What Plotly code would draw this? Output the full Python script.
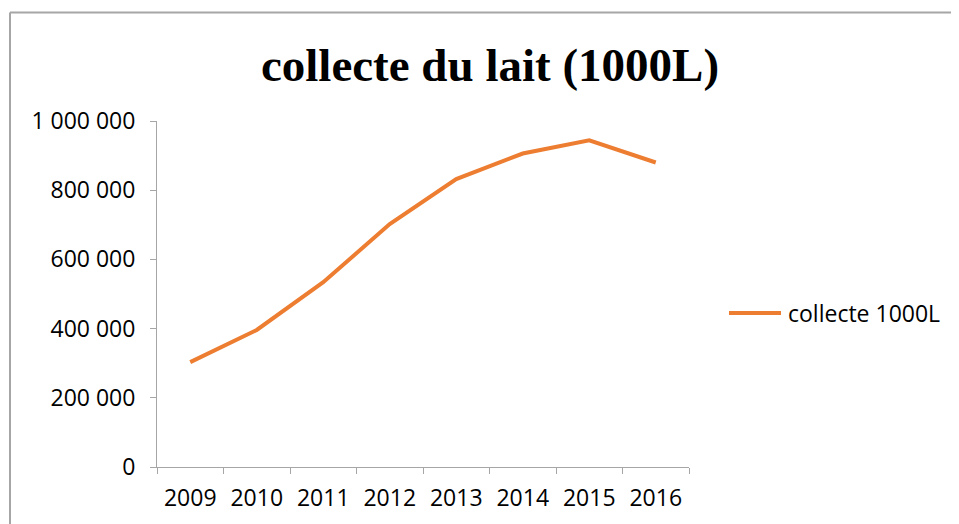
import plotly.graph_objects as go

# Data
years = ["2009", "2010", "2011", "2012", "2013", "2014", "2015", "2016"]
collecte = [303000, 396000, 534000, 702000, 832000, 906000, 944000, 880000]
y_ticks = [0, 200000, 400000, 600000, 800000, 1000000]

series_name = "collecte 1000L"
title_text = "collecte du lait (1000L)"

ORANGE = "#ED7D31"
AXIS_GREY = "#A6A6A6"
LABEL_FONT = "Open Sans, Liberation Sans, Arial, sans-serif"

# the page body adds an 8px margin, so work in shifted pixel coordinates
OFF = 8
W, H = 959 - OFF, 524 - OFF
PL, PR, PT, PB = 157 - OFF, 689 - OFF, 121 - OFF, 467 - OFF
pw, ph = PR - PL, PB - PT


def px_x(x):
    return (x - OFF - PL) / pw


def px_y(y):
    return (PB - (y - OFF)) / ph


fig = go.Figure()

fig.add_trace(
    go.Scatter(
        x=years,
        y=collecte,
        mode="lines",
        name=series_name,
        line=dict(color=ORANGE, width=4),
        showlegend=False,
    )
)

fig.update_layout(
    width=W,
    height=H,
    paper_bgcolor="#ffffff",
    plot_bgcolor="#ffffff",
    margin=dict(l=PL, r=W - PR, t=PT, b=H - PB),
    separators=". ",
    font=dict(family=LABEL_FONT, color="#000000", size=23),
    title=dict(
        text="<b>" + title_text + "</b>",
        x=(490 - OFF) / W,
        xanchor="center",
        y=1 - (65 - OFF) / H,
        yanchor="middle",
        yref="container",
        font=dict(family="Liberation Serif, Times New Roman, serif", size=47, color="#000000"),
    ),
    xaxis=dict(
        type="category",
        range=[-0.5, 7.5],
        tickson="boundaries",
        ticks="outside",
        ticklen=6,
        tickcolor=AXIS_GREY,
        ticklabelstandoff=10,
        showline=True,
        linecolor=AXIS_GREY,
        linewidth=1,
        showgrid=False,
        tickfont=dict(size=23),
        fixedrange=True,
    ),
    yaxis=dict(
        range=[0, 1000000],
        tickvals=y_ticks,
        tickformat=",d",
        ticks="outside",
        ticklen=6,
        tickcolor=AXIS_GREY,
        ticklabelstandoff=10,
        showline=True,
        linecolor=AXIS_GREY,
        linewidth=1,
        showgrid=False,
        zeroline=False,
        tickfont=dict(size=23),
        fixedrange=True,
    ),
    showlegend=False,
)

# Chart-area border (top and left edges visible in the reference)
border = dict(color=AXIS_GREY, width=2)
fig.add_shape(type="line", xref="paper", yref="paper",
              x0=px_x(10), x1=px_x(962), y0=px_y(12.5), y1=px_y(12.5), line=border)
fig.add_shape(type="line", xref="paper", yref="paper",
              x0=px_x(10), x1=px_x(10), y0=px_y(12.5), y1=px_y(530), line=border)

# Legend drawn by hand to match the long Excel line sample
fig.add_shape(type="line", xref="paper", yref="paper",
              x0=px_x(729), x1=px_x(781), y0=px_y(313), y1=px_y(313),
              line=dict(color=ORANGE, width=4))
fig.add_annotation(
    x=px_x(786), y=px_y(313), xref="paper", yref="paper",
    text=series_name, showarrow=False,
    xanchor="left", yanchor="middle",
    font=dict(family=LABEL_FONT, size=23, color="#000000"),
)

fig.write_html("out.html")
